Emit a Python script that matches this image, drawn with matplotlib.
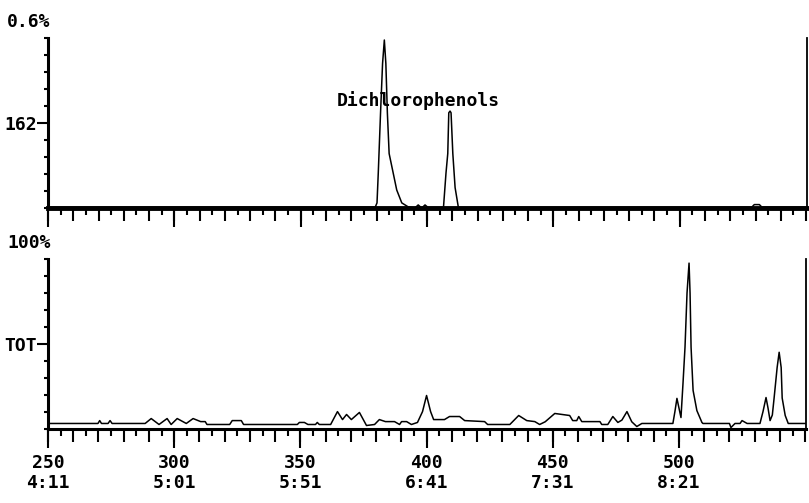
import matplotlib
matplotlib.use("Agg")
import matplotlib.pyplot as plt
from matplotlib.ticker import MultipleLocator, FixedLocator, NullFormatter

plt.rcParams['font.family'] = ['DejaVu Sans Mono', 'DejaVu Sans']
plt.rcParams['font.weight'] = 'bold'

# upper trace (m/z 162, % of 0.6%)
top_scan = [250, 379.5, 380.2, 380.7, 381.6, 382.4, 383.1, 383.7, 384.3, 385.0,
            386.6, 388.0, 390.0, 392.6, 395.2, 396.5, 397.9, 399.2, 400.4,
            406.5, 407.5, 408.2, 408.6, 409.1, 409.5, 410.2, 411.1, 412.4,
            528.5, 529.5, 531.5, 532.5, 550.5]
top_int = [0.5, 0.5, 3, 20.6, 56, 85, 98.8, 85, 56, 32,
           20.6, 10.6, 3, 0.6, 0, 1.8, 0, 1.8, 0.3,
           0.3, 20.6, 32, 56, 57, 56, 32, 12, 0.3,
           0.5, 2, 2, 0.5, 0.5]

# lower trace (TOT, %)
bot_scan = [250, 269.8, 270.5, 271.2, 273.8, 274.6, 275.4, 288.5, 290.9, 294.0,
            297.2, 298.8, 301.2, 304.8, 307.5, 310.5, 312.3, 313.0, 322.0, 323.0,
            326.6, 327.5, 348.8, 349.6, 351.6, 353.0, 356.0, 356.7, 357.5, 362.0,
            364.7, 366.7, 368.3, 370.2, 373.4, 376.2, 379.4, 381.3, 383.7, 387.3,
            389.3, 390.1, 392.1, 394.0, 396.4, 398.4, 400.0, 401.6, 402.8, 407.1,
            409.1, 413.1, 415.1, 423.0, 424.2, 433.0, 436.5, 439.7, 442.9, 444.8,
            447.0, 450.8, 456.7, 457.9, 459.5, 460.3, 461.5, 468.7, 469.4, 471.8,
            473.8, 475.8, 477.4, 479.4, 481.3, 483.3, 485.3, 497.6, 498.4, 499.2,
            500.8, 501.6, 502.4, 503.2, 504.0, 504.4, 504.8, 505.6, 507.1, 509.1,
            509.5, 520.0, 520.6, 522.2, 524.2, 525.0, 527.0, 532.1, 533.3, 534.5,
            535.3, 536.1, 537.0, 537.7, 538.9, 539.7, 540.5, 540.9, 542.1, 543.3,
            550.5]
bot_int = [3.0, 3.0, 4.7, 3.0, 3.0, 4.7, 3.0, 3.0, 5.9, 2.4,
           5.9, 2.4, 5.9, 3.0, 5.9, 4.1, 4.1, 2.4, 2.4, 4.7,
           4.7, 2.4, 2.4, 3.6, 3.6, 2.4, 2.4, 3.6, 2.4, 2.4,
           10.0, 5.3, 8.3, 5.3, 9.5, 1.8, 2.4, 5.3, 4.1, 4.1,
           2.4, 4.1, 4.1, 2.4, 3.6, 10.0, 19.5, 10.0, 5.3, 5.3,
           7.1, 7.1, 4.7, 4.1, 2.4, 2.4, 7.7, 4.7, 4.1, 2.4,
           4.0, 8.9, 7.7, 4.7, 4.7, 7.1, 4.1, 4.1, 2.4, 2.4,
           7.1, 3.6, 5.0, 10.0, 4.0, 1.2, 3.0, 3.0, 10.0, 17.8,
           6.5, 26.6, 48, 80, 97.6, 80, 48, 22.5, 10.6, 3.6,
           3.0, 3.0, 0.6, 3.0, 3.0, 4.7, 3.0, 3.0, 10, 18.3,
           12, 4.7, 8, 18, 36, 45, 36, 18, 7.7, 3.0,
           3.0]

scan_ticks = [250, 300, 350, 400, 450, 500]
time_labels = ['4:11', '5:01', '5:51', '6:41', '7:31', '8:21']

fs = 13
fig = plt.figure(figsize=(8.09, 5.03), dpi=100)
ax1 = fig.add_axes([0.0593, 0.5865, 0.9387, 0.338])
ax2 = fig.add_axes([0.0593, 0.148, 0.9375, 0.337])


def style_axis(ax, xlw, toplabel, midlabel):
    ax.set_xlim(250, 550.5)
    ax.set_ylim(0, 100)
    ax.spines['top'].set_visible(False)
    ax.spines['left'].set_linewidth(2.2)
    ax.spines['right'].set_linewidth(1.3)
    ax.spines['bottom'].set_linewidth(xlw)
    # x ticks: every 5 short, every 10 medium, every 50 long (secondary axis)
    ax.xaxis.set_major_locator(MultipleLocator(10))
    ax.xaxis.set_minor_locator(MultipleLocator(5))
    ax.xaxis.set_major_formatter(NullFormatter())
    ax.tick_params(axis='x', which='major', direction='out', length=9, width=1.5)
    ax.tick_params(axis='x', which='minor', direction='out', length=5, width=1.5)
    # y ticks every 10, middle one labelled
    ax.yaxis.set_major_locator(FixedLocator([50]))
    ax.yaxis.set_minor_locator(MultipleLocator(10))
    ax.set_yticklabels([midlabel], fontsize=fs, fontweight='bold')
    ax.tick_params(axis='y', which='major', direction='out', length=8, width=1.5, pad=0)
    ax.tick_params(axis='y', which='minor', direction='out', length=3, width=1.5)
    ax.annotate(toplabel, xy=(0, 1), xycoords='axes fraction', xytext=(2, 5),
                textcoords='offset points', ha='right', va='bottom',
                fontsize=fs, fontweight='bold')
    sec = ax.secondary_xaxis('bottom')
    sec.spines['bottom'].set_visible(False)
    sec.set_xticks(scan_ticks)
    sec.tick_params(axis='x', direction='out', length=14, width=1.5, pad=4)
    return sec


sec1 = style_axis(ax1, 3.5, '0.6%', '162')
sec1.set_xticklabels([])
ax1.plot(top_scan, top_int, color='black', lw=1.1)
ax1.text(396.4, 63.5, 'Dichlorophenols', ha='center', va='center',
         fontsize=fs, fontweight='bold')

sec2 = style_axis(ax2, 2.2, '100%', 'TOT')
ax2.plot(bot_scan, bot_int, color='black', lw=1.1)
sec2.set_xticklabels([f'{s}\n{t}' for s, t in zip(scan_ticks, time_labels)],
                     fontsize=fs, fontweight='bold', linespacing=1.2)

fig.savefig('out.png', dpi=100)
